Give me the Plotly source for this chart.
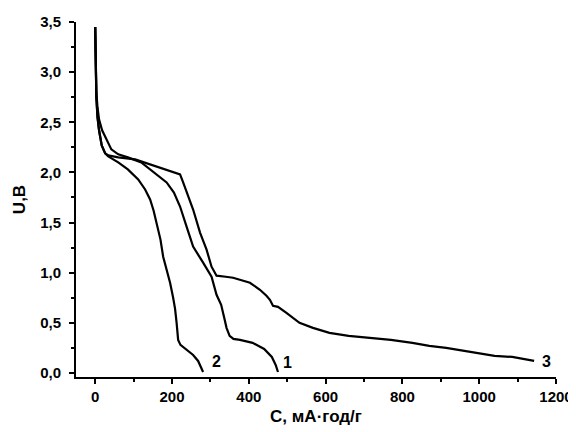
import plotly.graph_objects as go

# Curve 1
x1 = [0, 1, 3, 6, 10, 18, 30, 42, 60, 85, 120, 143, 165, 186, 205, 221, 238, 255, 281, 303, 316, 328, 336, 342, 350, 360, 377, 410, 440, 460, 470, 476]
y1 = [3.45, 3.0, 2.8, 2.65, 2.53, 2.42, 2.33, 2.23, 2.18, 2.15, 2.1, 2.03, 1.97, 1.9, 1.8, 1.66, 1.46, 1.26, 1.1, 0.96, 0.78, 0.68, 0.55, 0.45, 0.37, 0.34, 0.33, 0.3, 0.24, 0.16, 0.08, 0.01]
# Curve 2
x2 = [0, 1, 3, 6, 10, 17, 26, 34, 60, 85, 112, 130, 143, 152, 160, 170, 177, 186, 195, 203, 208, 212, 216, 222, 235, 255, 268, 276, 281]
y2 = [3.45, 3.0, 2.75, 2.55, 2.42, 2.27, 2.19, 2.16, 2.1, 2.03, 1.93, 1.83, 1.73, 1.62, 1.5, 1.33, 1.16, 1.03, 0.9, 0.75, 0.64, 0.5, 0.33, 0.28, 0.24, 0.18, 0.12, 0.06, 0.01]
# Curve 3
x3 = [0, 1, 3, 6, 10, 17, 26, 34, 60, 104, 143, 180, 221, 229, 242, 255, 273, 290, 303, 316, 340, 359, 403, 429, 446, 455, 463, 476, 498, 532, 567, 610, 660, 714, 770, 826, 870, 914, 960, 1000, 1040, 1086, 1143]
y3 = [3.45, 3.0, 2.75, 2.55, 2.42, 2.27, 2.19, 2.17, 2.15, 2.13, 2.08, 2.04, 1.98, 1.9, 1.76, 1.63, 1.4, 1.23, 1.06, 0.97, 0.96, 0.95, 0.9, 0.83, 0.77, 0.73, 0.67, 0.66, 0.6, 0.5, 0.45, 0.4, 0.37, 0.35, 0.33, 0.3, 0.27, 0.25, 0.22, 0.19, 0.17, 0.16, 0.12]

curve_labels = ["1", "2", "3"]
label_x = [502, 316, 1174]
label_y = [0.1, 0.11, 0.11]

x_ticks = [0, 200, 400, 600, 800, 1000, 1200]
y_ticks = [0.0, 0.5, 1.0, 1.5, 2.0, 2.5, 3.0, 3.5]
y_ticktext = ["0,0", "0,5", "1,0", "1,5", "2,0", "2,5", "3,0", "3,5"]

fig = go.Figure()
for xs, ys in [(x1, y1), (x2, y2), (x3, y3)]:
    fig.add_trace(go.Scatter(x=xs, y=ys, mode="lines",
                             line=dict(color="black", width=2.2),
                             showlegend=False, hoverinfo="skip"))

for t, lx, ly in zip(curve_labels, label_x, label_y):
    fig.add_annotation(x=lx, y=ly, text=t, showarrow=False,
                       font=dict(family="Liberation Sans, Arial", size=16, color="black", weight="bold"))

axis_font = dict(family="Liberation Sans, Arial", size=15, color="black", weight="bold")
title_font = dict(family="Liberation Sans, Arial", size=17, color="black", weight="bold")

fig.update_layout(
    width=568, height=424,
    margin=dict(l=68, r=20, t=14, b=55),
    plot_bgcolor="white", paper_bgcolor="white",
    xaxis=dict(range=[-50, 1200], tickvals=x_ticks, ticks="outside", ticklen=5,
               tickwidth=1.5, tickcolor="black", showline=True, linecolor="black",
               linewidth=2, showgrid=False, zeroline=False, tickfont=axis_font,
               automargin=False,
               minor=dict(dtick=100, tick0=0, ticks="outside", ticklen=3, tickcolor="black", showgrid=False),
               title=dict(text="C, мА·год/г", font=title_font, standoff=6)),
    yaxis=dict(range=[-0.04, 3.5], tickvals=y_ticks, ticktext=y_ticktext, ticks="outside",
               ticklen=5, tickwidth=1.5, tickcolor="black", showline=True, linecolor="black",
               linewidth=2, showgrid=False, zeroline=False, tickfont=axis_font,
               automargin=False, ticklabelstandoff=5,
               minor=dict(dtick=0.25, tick0=0, ticks="outside", ticklen=3, tickcolor="black", showgrid=False),
               title=dict(text="U,B", font=title_font, standoff=10)),
)

fig.write_html("out.html")
